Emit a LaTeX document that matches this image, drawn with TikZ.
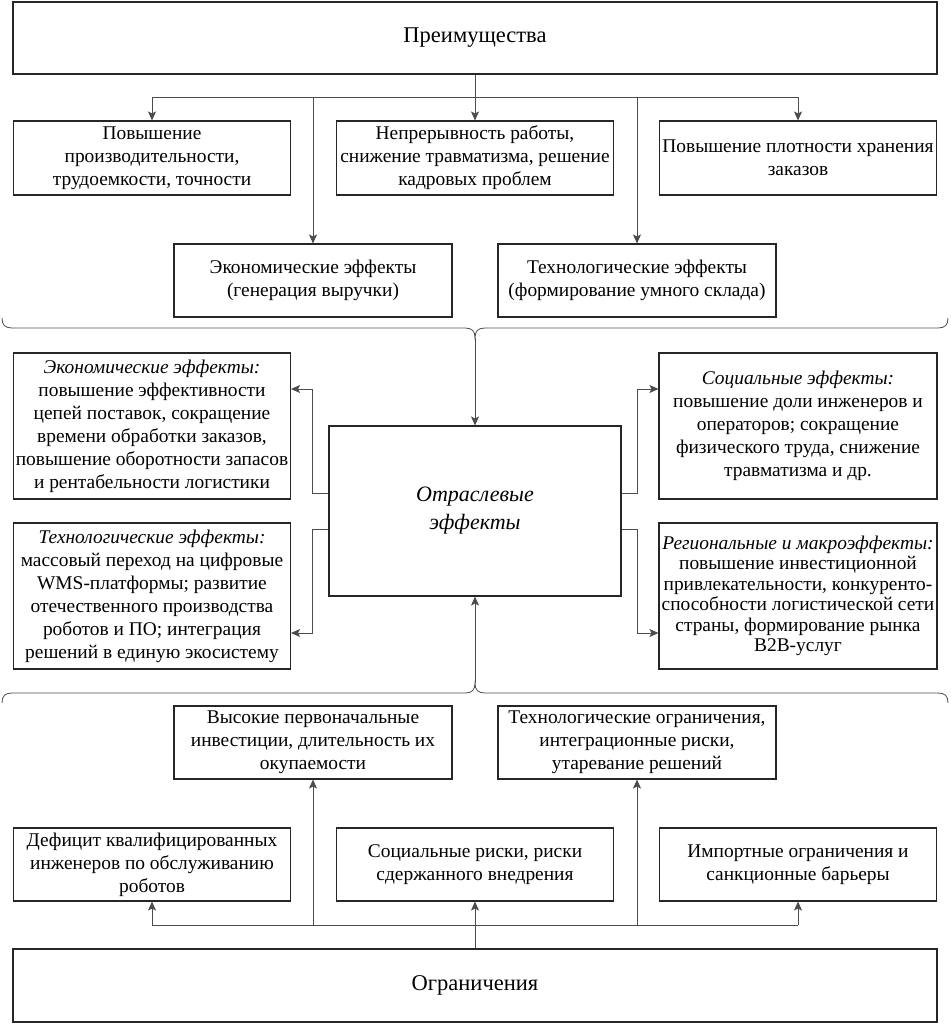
\documentclass[tikz,border=0pt]{standalone}
\usepackage{fontspec}
\setmainfont{Liberation Serif}
\usetikzlibrary{arrows.meta,calc}
\begin{document}
\begin{tikzpicture}[x=1pt,y=-1pt,
  box/.style={draw=black!85, line width=1.1pt, inner sep=0pt, align=center,
    font=\fontsize{19.4}{23}\selectfont},
  title/.style={box, font=\fontsize{22.5}{26}\selectfont},
  line/.style={draw=black!70, line width=0.8pt},
  conn/.style={line, -{Stealth[length=9pt,width=8pt,inset=2pt]}}]
\useasboundingbox (0,0) rectangle (950,1024);
% top
\node[title, minimum width=924, minimum height=72] (top) at (475,38) {Преимущества};
\node[box, minimum width=277, minimum height=74] (r1a) at (152,158) {Повышение\\производительности,\\трудоемкости, точности};
\node[box, minimum width=277, minimum height=74] (r1b) at (475,158) {Непрерывность работы,\\снижение травматизма, решение\\кадровых проблем};
\node[box, minimum width=277, minimum height=74] (r1c) at (798,158) {Повышение плотности хранения\\заказов};
\node[box, minimum width=278, minimum height=73] (r2a) at (313,280.5) {Экономические эффекты\\(генерация выручки)};
\node[box, minimum width=278, minimum height=73] (r2b) at (637,280.5) {Технологические эффекты\\(формирование умного склада)};
% middle
\node[box, minimum width=292, minimum height=170, font=\fontsize{22}{28}\selectfont\itshape] (ctr) at (475,511) {Отраслевые\\эффекты};
\node[box, minimum width=277, minimum height=146] (L1) at (152,426) {\textit{Экономические эффекты:}\\повышение эффективности\\цепей поставок, сокращение\\времени обработки заказов,\\повышение оборотности запасов\\и рентабельности логистики};
\node[box, minimum width=277, minimum height=146] (L2) at (152,596) {\textit{Технологические эффекты:}\\массовый переход на цифровые\\WMS-платформы; развитие\\отечественного производства\\роботов и ПО; интеграция\\решений в единую экосистему};
\node[box, minimum width=278, minimum height=146] (R1) at (798,426) {\textit{Социальные эффекты:}\\повышение доли инженеров и\\операторов; сокращение\\физического труда, снижение\\травматизма и др.};
\node[box, minimum width=278, minimum height=146, font=\fontsize{19.4}{20.5}\selectfont] (R2) at (798,596) {\textit{Региональные и макроэффекты:}\\повышение инвестиционной\\привлекательности, конкуренто-\\способности логистической сети\\страны, формирование рынка\\B2B-услуг};
% bottom
\node[box, minimum width=278, minimum height=73] (b2a) at (313,742.5) {Высокие первоначальные\\инвестиции, длительность их\\окупаемости};
\node[box, minimum width=278, minimum height=73] (b2b) at (637,742.5) {Технологические ограничения,\\интеграционные риски,\\утаревание решений};
\node[box, minimum width=277, minimum height=73] (b1a) at (152,864.5) {Дефицит квалифицированных\\инженеров по обслуживанию\\роботов};
\node[box, minimum width=277, minimum height=73] (b1b) at (475,864.5) {Социальные риски, риски\\сдержанного внедрения};
\node[box, minimum width=277, minimum height=73] (b1c) at (798,864.5) {Импортные ограничения и\\санкционные барьеры};
\node[title, minimum width=924, minimum height=73] (bot) at (475,985.5) {Ограничения};
% top connectors
\coordinate (th) at (475,97);
\draw[line] (top.south) -- (th);
\draw[line] (r1a.north |- th) -- (r1c.north |- th);
\draw[conn] (r1a.north |- th) -- (r1a.north);
\draw[conn] (th) -- (r1b.north);
\draw[conn] (r1c.north |- th) -- (r1c.north);
\draw[conn] (r2a.north |- th) -- (r2a.north);
\draw[conn] (r2b.north |- th) -- (r2b.north);
% bottom connectors
\coordinate (bh) at (475,925);
\draw[line] (bot.north) -- (bh);
\draw[line] (b1a.south |- bh) -- (b1c.south |- bh);
\draw[conn] (b1a.south |- bh) -- (b1a.south);
\draw[conn] (bh) -- (b1b.south);
\draw[conn] (b1c.south |- bh) -- (b1c.south);
\draw[conn] (b2a.south |- bh) -- (b2a.south);
\draw[conn] (b2b.south |- bh) -- (b2b.south);
% braces
\coordinate (tb) at (475,338);
\draw[line] (2,318) .. controls (2,325) and (5,328) .. (12,328) -- (465,328)
  .. controls (472,328) and (475,331) .. (tb)
  .. controls (475,331) and (478,328) .. (485,328) -- (938,328)
  .. controls (945,328) and (948,325) .. (948,318);
\coordinate (bb) at (475,683);
\draw[line] (2,703) .. controls (2,696) and (5,693) .. (12,693) -- (465,693)
  .. controls (472,693) and (475,690) .. (bb)
  .. controls (475,690) and (478,693) .. (485,693) -- (938,693)
  .. controls (945,693) and (948,696) .. (948,703);
\draw[conn] (tb) -- (ctr.north);
\draw[conn] (bb) -- (ctr.south);
% lateral connectors
\draw[conn] ($(ctr.west)+(0,-18)$) -- ++(-16,0) |- ($(L1.east)+(0,-37)$);
\draw[conn] ($(ctr.west)+(0,18)$) -- ++(-16,0) |- ($(L2.east)+(0,37)$);
\draw[conn] ($(ctr.east)+(0,-18)$) -- ++(16,0) |- ($(R1.west)+(0,-37)$);
\draw[conn] ($(ctr.east)+(0,18)$) -- ++(16,0) |- ($(R2.west)+(0,37)$);
\end{tikzpicture}
\end{document}
